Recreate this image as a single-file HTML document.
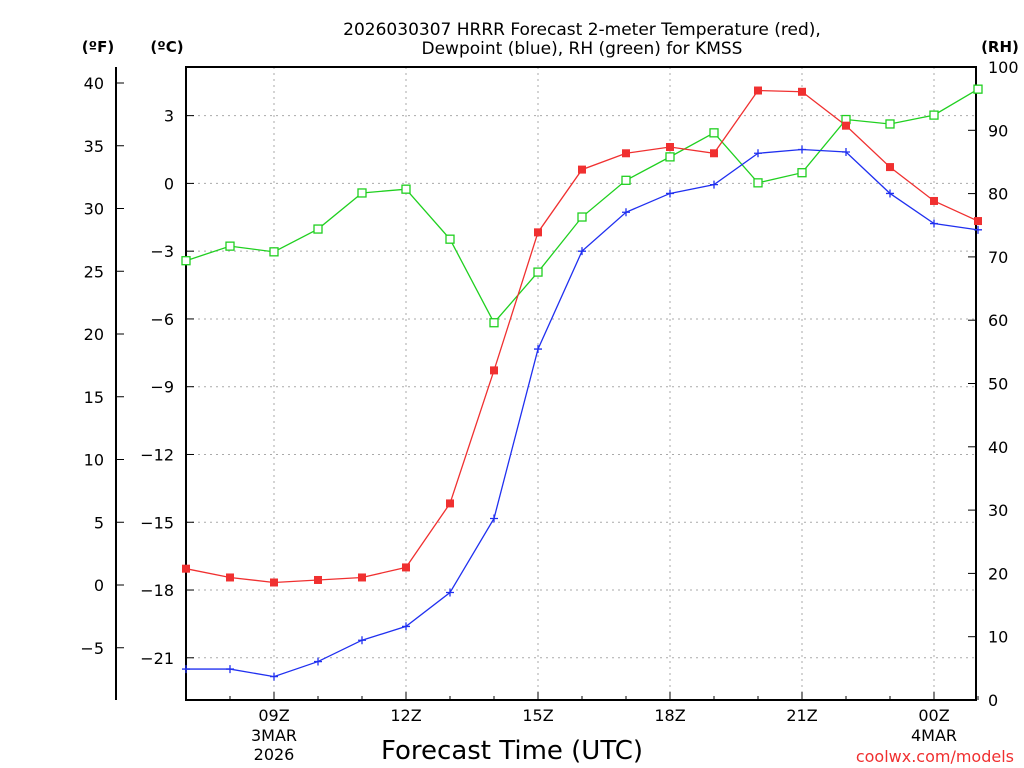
<!DOCTYPE html>
<html><head><meta charset="utf-8"><style>
body{margin:0;background:#fff;}
svg{display:block;font-family:"DejaVu Sans","Liberation Sans",sans-serif;}
</style></head><body>
<svg id="chart" width="1024" height="768" viewBox="0 0 1024 768" xmlns="http://www.w3.org/2000/svg">
<rect width="1024" height="768" fill="#fff"/>
<text x="582" y="35" font-size="17" text-anchor="middle">2026030307 HRRR Forecast 2-meter Temperature (red),</text>
<text x="582" y="54" font-size="17" text-anchor="middle">Dewpoint (blue), RH (green) for KMSS</text>
<text x="98" y="52" font-size="15" font-weight="bold" text-anchor="middle">(ºF)</text>
<text x="167" y="52" font-size="15" font-weight="bold" text-anchor="middle">(ºC)</text>
<text x="1000" y="52" font-size="15" font-weight="bold" text-anchor="middle">(RH)</text>
<text x="512" y="759" font-size="26" text-anchor="middle">Forecast Time (UTC)</text>
<text x="1014" y="762" font-size="16" fill="#f03030" text-anchor="end">coolwx.com/models</text>
<g id="grid"></g><g id="axes"></g><g id="series"></g>
</svg>
<script>
const hours = [0,1,2,3,4,5,6,7,8,9,10,11,12,13,14,15,16,17,18]; // hours after 07Z
const tempF = [1.3,0.6,0.2,0.4,0.6,1.4,6.5,17.1,28.1,33.1,34.4,34.9,34.4,39.4,39.3,36.6,33.3,30.6,29.0];
const dewF = [-6.7,-6.7,-7.3,-6.1,-4.4,-3.3,-0.6,5.3,18.8,26.6,29.7,31.2,31.9,34.4,34.7,34.5,31.2,28.8,28.3];
const rh = [69.4,71.7,70.8,74.4,80.1,80.7,72.8,59.6,67.6,76.3,82.1,85.8,89.6,81.7,83.3,91.7,91.0,92.4,96.5];
const fTicks = [-5,0,5,10,15,20,25,30,35,40];
const cTicks = [-21,-18,-15,-12,-9,-6,-3,0,3];
const rhTicks = [0,10,20,30,40,50,60,70,80,90,100];
const xTickHours = [2,5,8,11,14,17];
const xTickLabels = ["09Z","12Z","15Z","18Z","21Z","00Z"];
const xTickSub = [["3MAR","2026"],[],[],[],[],["4MAR"]];

const L=186,R=976,T=67,B=700;
const xs=h=>L+h*44;
const yF=f=>585-f*12.55;
const yC=c=>yF(c*1.8+32);
const yRH=v=>B-(v/100)*(B-T);
const NS="http://www.w3.org/2000/svg";
function mk(tag,attrs,parent,text){const e=document.createElementNS(NS,tag);for(const k in attrs)e.setAttribute(k,attrs[k]);if(text!==undefined)e.textContent=text;parent.appendChild(e);return e;}
const grid=document.getElementById('grid'),axes=document.getElementById('axes'),ser=document.getElementById('series');

cTicks.forEach(c=>{const y=yC(c);
 const g=mk('line',{x1:L,x2:R,y1:y,y2:y,stroke:'#aaa','stroke-dasharray':'2,4'},grid);
 
 
 const t=mk('line',{x1:L,x2:L+8,y1:y,y2:y,stroke:'#000'},axes);
 const l=mk('text',{x:174,y:y+6,'font-size':16,'text-anchor':'end'},axes,c<0?'\u2212'+(-c):String(c));
 
 
});
xTickHours.forEach((h,i)=>{const x=xs(h);
 const g=mk('line',{x1:x,x2:x,y1:T,y2:B,stroke:'#aaa','stroke-dasharray':'2,4'},grid);
 
 
 mk('line',{x1:x,x2:x,y1:B,y2:B-8,stroke:'#000'},axes);
 const l=mk('text',{x:x,y:721,'font-size':16,'text-anchor':'middle'},axes,xTickLabels[i]);
 
 
 xTickSub[i].forEach((s,j)=>{const sl=mk('text',{x:x,y:741+j*19,'font-size':16,'text-anchor':'middle'},axes,s);
  
  });
});
hours.forEach(h=>{mk('line',{x1:xs(h),x2:xs(h),y1:B,y2:B-4,stroke:'#000'},axes);});
const frame=mk('rect',{x:L,y:T,width:R-L,height:B-T,fill:'none',stroke:'#000','stroke-width':2},axes);


// F axis
mk('line',{x1:116,x2:116,y1:T,y2:B,stroke:'#000','stroke-width':2},axes);
fTicks.forEach(f=>{const y=yF(f);
 mk('line',{x1:116,x2:124,y1:y,y2:y,stroke:'#000'},axes);
 const l=mk('text',{x:104,y:y+6,'font-size':16,'text-anchor':'end'},axes,f<0?'\u2212'+(-f):String(f));
 
 
});
rhTicks.forEach(v=>{const y=yRH(v);
 mk('line',{x1:R,x2:R-8,y1:y,y2:y,stroke:'#000'},axes);
 const l=mk('text',{x:988,y:y+6,'font-size':16},axes,String(v));
 
 
});
function line(vals,yf,color,name){
 const p=mk('polyline',{points:vals.map((v,i)=>xs(hours[i])+','+yf(v)).join(' '),fill:'none',stroke:color,'stroke-width':1.3},ser);
 
 
}
line(rh,yRH,'#20d020','rh');
line(tempF,yF,'#f03030','temperature');
line(dewF,yF,'#2030f0','dewpoint');
rh.forEach((v,i)=>{const m=mk('rect',{x:xs(hours[i])-4,y:yRH(v)-4,width:8,height:8,fill:'#fff',stroke:'#20d020','stroke-width':1.3},ser);
 
 });
tempF.forEach((v,i)=>{const m=mk('rect',{x:xs(hours[i])-4,y:yF(v)-4,width:8,height:8,fill:'#f03030'},ser);
 
 });
dewF.forEach((v,i)=>{const x=xs(hours[i]),y=yF(v);
 const m=mk('path',{d:`M${x-4},${y}H${x+4}M${x},${y-4}V${y+4}`,stroke:'#2030f0','stroke-width':1.3},ser);
 
 });
</script>
</body></html>
